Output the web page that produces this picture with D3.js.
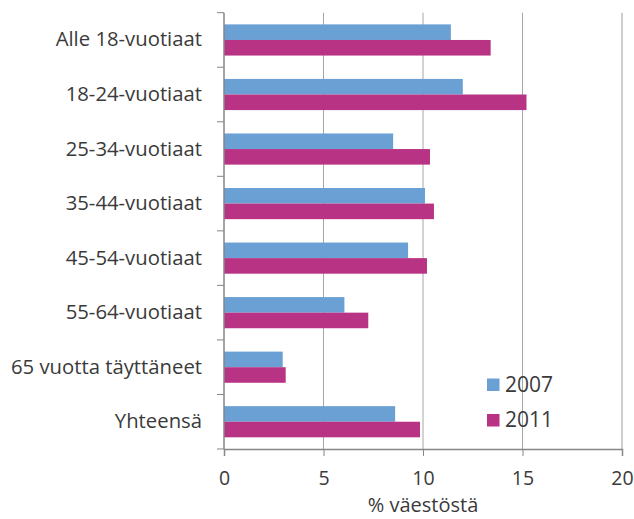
<!DOCTYPE html>
<html>
<head>
<meta charset="utf-8">
<script src="https://cdn.jsdelivr.net/npm/d3@7"></script>
<style>
  body { margin: 0; background: #fff; }
  text { font-family: "Open Sans", sans-serif; fill: #3a3a3a; }
</style>
</head>
<body>
<div id="chart"></div>
<script>
// data
var categories = ["Alle 18-vuotiaat", "18-24-vuotiaat", "25-34-vuotiaat", "35-44-vuotiaat",
  "45-54-vuotiaat", "55-64-vuotiaat", "65 vuotta täyttäneet", "Yhteensä"];
var seriesNames = ["2007", "2011"];
var values2007 = [11.4, 12.0, 8.5, 10.1, 9.25, 6.05, 2.95, 8.6];
var values2011 = [13.4, 15.2, 10.35, 10.55, 10.2, 7.25, 3.1, 9.85];
var xTicks = [0, 5, 10, 15, 20];
var colors = ["#6aa0d3", "#b93385"];

var W = 634, H = 519;
var margin = {top: 12.7, right: 12, bottom: 70, left: 224};
var width = W - margin.left - margin.right,
  height = H - margin.top - margin.bottom;

var svg = d3.select("#chart")
  .append("svg")
  .attr("width", W)
  .attr("height", H)
  .append("g")
  .attr("transform", "translate(" + margin.left + "," + margin.top + ")");

var x = d3.scaleLinear().domain([0, 20]).range([0, width]);
var y = d3.scaleBand().domain(categories).range([0, height]).paddingInner(0).paddingOuter(0);
var inner = d3.scaleBand().domain(seriesNames).range([0, y.bandwidth()]).paddingOuter(0.75).paddingInner(0);

// gridlines
svg.selectAll(".grid")
  .data(xTicks.slice(1))
  .enter()
  .append("line")
  .attr("x1", d => x(d)).attr("x2", d => x(d))
  .attr("y1", 0).attr("y2", height)
  .style("stroke", d => d == 20 ? "#bdbdbd" : "#a6a6a6")
  .style("stroke-width", d => d == 20 ? 1.5 : 1);

var rows = categories.map((c, i) => ({cat: c, vals: [values2007[i], values2011[i]]}));

var groups = svg.selectAll(".row")
  .data(rows)
  .enter()
  .append("g")
  .attr("transform", d => "translate(0," + y(d.cat) + ")");

groups.selectAll("rect")
  .data(d => d.vals.map((v, j) => ({name: seriesNames[j], v: v, j: j})))
  .enter()
  .append("rect")
  .attr("x", x(0))
  .attr("y", d => inner(d.name))
  .attr("width", d => x(d.v) - x(0))
  .attr("height", inner.bandwidth())
  .style("fill", d => colors[d.j]);

// y axis
var yAxis = svg.append("g")
  .call(d3.axisLeft(y).tickSize(0).tickPadding(22));
yAxis.select(".domain").remove();
yAxis.selectAll("text").style("font-size", "20.3px").style("fill", "#3a3a3a");
// category separator ticks
svg.selectAll(".ytick")
  .data(d3.range(categories.length + 1))
  .enter()
  .append("line")
  .attr("x1", -7).attr("x2", 0)
  .attr("y1", i => i * y.step()).attr("y2", i => i * y.step())
  .style("stroke", "#868686");
svg.append("line")
  .attr("x1", 0).attr("x2", 0)
  .attr("y1", 0).attr("y2", height)
  .style("stroke", "#868686").style("stroke-width", 1.5);

// x axis
var xAxis = svg.append("g")
  .attr("transform", "translate(0," + height + ")")
  .call(d3.axisBottom(x).tickValues(xTicks).tickSize(7).tickPadding(15.5));
xAxis.select(".domain").style("stroke", "#868686").style("stroke-width", 1.5);
xAxis.selectAll("line").style("stroke", "#868686");
xAxis.selectAll("text").style("font-size", "19.5px").style("fill", "#3a3a3a");

svg.append("text")
  .attr("text-anchor", "middle")
  .attr("x", width / 2)
  .attr("y", height + 63)
  .style("font-size", "20px")
  .text("% väestöstä");

// legend
var legend = svg.selectAll(".legend")
  .data(seriesNames)
  .enter()
  .append("g")
  .attr("transform", (d, i) => "translate(" + (487 - margin.left) + "," + (378.5 - margin.top + i * 35.5) + ")");
legend.append("rect")
  .attr("width", 12.5).attr("height", 12.5)
  .style("fill", (d, i) => colors[i]);
legend.append("text")
  .attr("x", 18)
  .attr("y", 13)
  .style("font-size", "21px")
  .text(d => d);
</script>
</body>
</html>
